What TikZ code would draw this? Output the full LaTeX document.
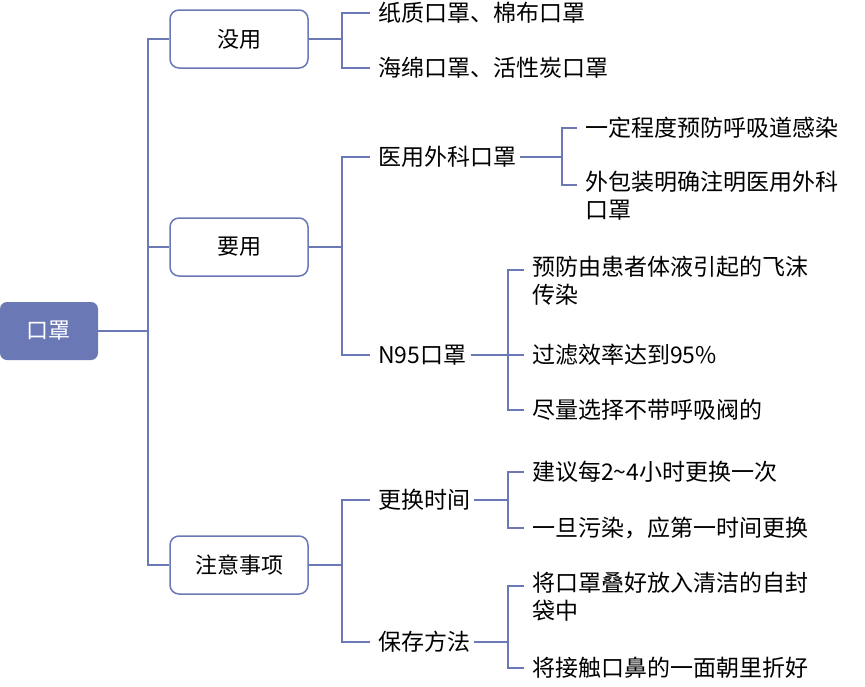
\documentclass[tikz,border=0pt]{standalone}
\usepackage{fontspec}
\setmainfont{Noto Sans CJK SC}
\definecolor{mapblue}{HTML}{6A79B6}
\begin{document}
\begin{tikzpicture}[
    x=1pt, y=-1pt,
    root/.style={rectangle, rounded corners=7pt, fill=mapblue, text=white, minimum width=98pt, minimum height=58pt, font=\fontsize{22}{26}\selectfont},
    topic/.style={rectangle, rounded corners=9pt, draw=mapblue, line width=1.5pt, fill=white, minimum width=138pt, minimum height=58pt, font=\fontsize{22}{26}\selectfont},
    leaf/.style={anchor=west, inner sep=0pt, font=\fontsize{23}{28}\selectfont, align=left},
    link/.style={draw=mapblue, line width=1.5pt}
]
\useasboundingbox (0,0) rectangle (865,686);

% Root
\node[root] (mask) at (49,331) {口罩};

% Topics
\node[topic] (useless) at (239,39) {没用};
\node[topic] (useful) at (239,247) {要用};
\node[topic] (notes) at (239,565) {注意事项};

% Leaves under 没用
\node[leaf] (paper) at (378,13) {纸质口罩、棉布口罩};
\node[leaf] (sponge) at (378,68) {海绵口罩、活性炭口罩};

% Leaves under 要用
\node[leaf] (surgical) at (378,157) {医用外科口罩};
\node[leaf] (nnf) at (378,355) {N95口罩};
\node[leaf] (protect) at (585,128) {一定程度预防呼吸道感染};
\node[leaf, anchor=north west] (label) at (585,171) {外包装明确注明医用外科\\口罩};
\node[leaf, anchor=north west] (droplet) at (532,256) {预防由患者体液引起的飞沫\\传染};
\node[leaf] (filter) at (532,355) {过滤效率达到95\%};
\node[leaf] (valve) at (532,410) {尽量选择不带呼吸阀的};

% Leaves under 注意事项
\node[leaf] (change) at (378,500) {更换时间};
\node[leaf] (store) at (378,642) {保存方法};
\node[leaf] (hours) at (532,472) {建议每2\textasciitilde4小时更换一次};
\node[leaf] (dirty) at (532,528) {一旦污染，应第一时间更换};
\node[leaf, anchor=north west] (fold) at (532,572) {将口罩叠好放入清洁的自封\\袋中};
\node[leaf] (inside) at (532,668) {将接触口鼻的一面朝里折好};

% Links
\foreach \t in {useless, useful, notes}
  \draw[link] (mask.east) -- (148,331) |- (\t.west);
\foreach \l in {paper, sponge}
  \draw[link] (useless.east) -- (342,39) |- ([xshift=-8pt]\l.west);
\foreach \l in {surgical, nnf}
  \draw[link] (useful.east) -- (342,247) |- ([xshift=-8pt]\l.west);
\foreach \l in {change, store}
  \draw[link] (notes.east) -- (342,565) |- ([xshift=-8pt]\l.west);
\draw[link] ([xshift=4pt]surgical.east) -- (562,157) |- ([xshift=-8pt]protect.west);
\draw[link] (562,157) |- ([xshift=-8pt,yshift=-14pt]label.north west);
\draw[link] ([xshift=4pt]nnf.east) -- (508,355) |- ([xshift=-8pt,yshift=-14pt]droplet.north west);
\draw[link] (508,355) |- ([xshift=-8pt]filter.west);
\draw[link] (508,355) |- ([xshift=-8pt]valve.west);
\draw[link] ([xshift=4pt]change.east) -- (508,500) |- ([xshift=-8pt]hours.west);
\draw[link] (508,500) |- ([xshift=-8pt]dirty.west);
\draw[link] ([xshift=4pt]store.east) -- (508,642) |- ([xshift=-8pt,yshift=-14pt]fold.north west);
\draw[link] (508,642) |- ([xshift=-8pt]inside.west);

\end{tikzpicture}
\end{document}
